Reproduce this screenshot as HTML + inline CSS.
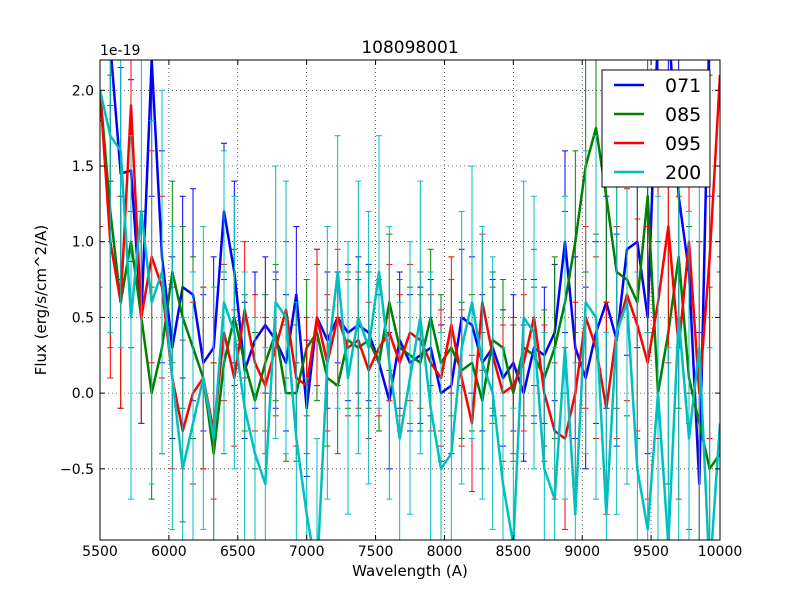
<!DOCTYPE html>
<html><head><meta charset="utf-8"><style>
html,body{margin:0;padding:0;background:#fff;overflow:hidden;width:800px;height:600px}
svg{display:block}
svg text{font-family:"DejaVu Sans","Liberation Sans",sans-serif;fill:#000}
</style></head><body>
<svg id="c" width="800" height="600" xmlns="http://www.w3.org/2000/svg">
<rect width="800" height="600" fill="#fff"/>
<defs><clipPath id="cp"><rect x="100" y="60" width="620" height="480"/></clipPath></defs>
<g id="grid"></g>
<g id="series" clip-path="url(#cp)"></g>
<rect x="100" y="60" width="620" height="480" fill="none" stroke="#000" stroke-width="1"/>
<g id="axes"></g>
<text x="410" y="53" font-size="17" text-anchor="middle">108098001</text>
<text x="100" y="55" font-size="14">1e-19</text>
<text x="410" y="576" font-size="15" text-anchor="middle">Wavelength (A)</text>
<text x="46" y="300" font-size="15" text-anchor="middle" transform="rotate(-90 46 300)">Flux (erg/s/cm^2/A)</text>
<g id="legend">
<rect x="602" y="70" width="108" height="117" fill="#fff" stroke="#000"/>
</g>
</svg>
<script>
const start = 5500, step = 75;
const xTicks = [5500,6000,6500,7000,7500,8000,8500,9000,9500,10000];
const yTicks = [-0.5,0.0,0.5,1.0,1.5,2.0];
const yTickLabels = ["\u22120.5","0.0","0.5","1.0","1.5","2.0"];
const names = ["071","085","095","200"];
const colors = ["#0000ff","#008000","#ff0000","#00bfbf"];
const s071 = [2.5,2.3,1.45,1.47,0.5,2.2,0.9,0.3,0.7,0.65,0.2,0.3,1.2,0.8,0.15,0.35,0.45,0.35,0.2,0.65,-0.1,0.5,0.35,0.5,0.4,0.45,0.4,0.2,-0.05,0.35,0.2,0.25,0.3,0.0,0.05,0.5,0.45,0.2,0.3,0.1,0.2,0.0,0.3,0.25,0.4,1.0,0.3,0.1,0.4,0.6,0.35,0.95,1.0,0.5,2.4,2.5,1.3,0.8,-0.6,2.5,2.5];
const s085 = [2.0,1.2,0.6,1.0,0.5,0.0,0.3,0.8,0.5,0.3,0.1,-0.4,0.2,0.5,0.2,-0.05,0.2,0.4,0.0,0.0,0.3,0.4,0.1,0.05,0.35,0.3,0.35,0.2,0.6,0.3,0.25,0.2,0.5,0.2,0.3,0.15,0.2,-0.05,0.35,0.3,0.0,0.3,0.25,0.1,0.3,0.6,1.0,1.5,1.75,1.3,0.8,0.75,0.6,1.3,0.0,0.4,0.9,0.1,-0.2,-0.5,-0.4];
const s095 = [2.0,1.0,0.6,1.9,0.5,0.9,0.7,0.1,-0.25,0.0,0.1,-0.25,0.4,0.1,0.55,0.2,0.05,0.3,0.55,0.1,0.05,0.5,0.2,0.5,0.3,0.35,0.15,0.3,0.4,0.2,0.4,0.35,0.2,0.1,0.45,0.1,-0.2,0.6,0.25,0.0,0.05,0.2,0.5,0.0,-0.25,-0.3,0.0,0.5,0.3,-0.1,0.4,0.65,0.45,0.2,0.6,1.1,0.3,1.0,0.0,0.9,2.1];
const s200 = [2.0,1.7,1.6,0.5,1.2,0.6,0.8,0.1,-0.5,-0.2,0.1,-0.3,0.6,0.4,-0.1,-0.4,-0.6,0.6,0.5,-0.3,-0.8,-1.2,0.2,0.8,0.1,0.5,0.3,0.8,0.2,-0.3,0.1,0.5,-0.1,-0.5,-0.4,0.3,0.6,0.2,0.0,-0.6,-1.0,0.5,0.4,-0.5,-0.7,0.3,-0.8,0.6,0.5,-0.8,0.4,0.6,-0.5,-0.9,0.0,-1.0,0.5,-0.3,0.3,-1.2,-0.2];
const e071 = [0.7,0.9,0.7,0.6,0.7,0.9,0.7,0.6,0.6,0.7,0.45,0.6,0.45,0.6,0.45,0.45,0.45,0.45,0.45,0.45,0.45,0.45,0.45,0.3,0.45,0.45,0.45,0.45,0.45,0.45,0.45,0.45,0.45,0.45,0.45,0.45,0.45,0.45,0.45,0.45,0.45,0.45,0.45,0.45,0.45,0.6,0.6,0.6,0.6,0.7,0.7,0.7,0.7,0.9,0.9,0.9,1.0,1.0,1.0,1.2,1.2];
const e085 = [0.9,0.9,0.7,0.7,0.7,0.7,0.7,0.6,0.6,0.6,0.6,0.6,0.6,0.45,0.45,0.45,0.45,0.45,0.45,0.45,0.45,0.45,0.45,0.45,0.45,0.45,0.45,0.45,0.45,0.45,0.45,0.45,0.45,0.45,0.45,0.45,0.45,0.45,0.45,0.45,0.45,0.45,0.45,0.45,0.6,0.6,0.6,0.7,0.7,0.7,0.9,0.9,0.9,0.9,1.0,1.0,1.0,1.0,1.2,1.2,1.2];
const e095 = [0.9,0.9,0.7,0.7,0.7,0.7,0.6,0.6,0.6,0.6,0.6,0.45,0.45,0.45,0.45,0.45,0.45,0.45,0.45,0.45,0.45,0.45,0.45,0.45,0.45,0.45,0.45,0.45,0.45,0.45,0.45,0.45,0.45,0.45,0.45,0.45,0.45,0.45,0.45,0.45,0.45,0.45,0.45,0.45,0.45,0.6,0.6,0.6,0.6,0.7,0.7,0.7,0.7,0.9,0.9,0.9,1.0,1.0,1.0,1.2,1.2];
const e200 = [1.3,1.3,1.3,1.2,1.2,1.2,1.2,1.0,1.0,1.0,1.0,1.0,1.0,0.9,0.9,0.9,0.9,0.9,0.9,0.9,0.9,0.9,0.9,0.9,0.9,0.9,0.9,0.9,0.9,0.9,0.9,0.9,0.9,0.9,0.9,0.9,0.9,0.9,0.9,0.9,0.9,0.9,0.9,0.9,1.0,1.0,1.0,1.0,1.2,1.2,1.2,1.2,1.3,1.3,1.3,1.3,1.5,1.5,1.5,1.5,1.5];
const seriesVals = [s071,s085,s095,s200];
const seriesErr = [e071,e085,e095,e200];

const NS="http://www.w3.org/2000/svg";
const xMin=5500,xMax=10000,yMin=-0.97,yMax=2.2;
const X=v=>100+(v-xMin)/(xMax-xMin)*620;
const Y=v=>540-(v-yMin)/(yMax-yMin)*480;
const clampY=y=>Math.max(60,Math.min(540,y));
function mk(tag,attrs,parent){const e=document.createElementNS(NS,tag);for(const k in attrs)e.setAttribute(k,attrs[k]);parent.appendChild(e);return e;}
const grid=document.getElementById('grid'),axes=document.getElementById('axes'),ser=document.getElementById('series'),leg=document.getElementById('legend');
xTicks.forEach(t=>{
  const x=X(t);
  const g=mk('line',{x1:x,x2:x,y1:60,y2:540,stroke:'#000','stroke-width':0.6,'stroke-dasharray':'1,3'},grid);
  
  
  const a=mk('line',{x1:x,x2:x,y1:540,y2:535,stroke:'#000'},axes);
  
  
  const b=mk('line',{x1:x,x2:x,y1:60,y2:65,stroke:'#000'},axes);
  
  
  const tx=mk('text',{x:x,y:556,'font-size':14,'text-anchor':'middle'},axes);
  tx.textContent=t;
  
  
});
yTicks.forEach((t,i)=>{
  const y=Y(t);
  const g=mk('line',{x1:100,x2:720,y1:y,y2:y,stroke:'#000','stroke-width':0.6,'stroke-dasharray':'1,3'},grid);
  
  
  const a=mk('line',{x1:100,x2:105,y1:y,y2:y,stroke:'#000'},axes);
  
  
  const b=mk('line',{x1:715,x2:720,y1:y,y2:y,stroke:'#000'},axes);
  
  
  const tx=mk('text',{x:94,y:y+5,'font-size':14,'text-anchor':'end'},axes);
  tx.textContent=yTickLabels[i];
  
  
});
seriesVals.forEach((vals,si)=>{
  const col=colors[si],err=seriesErr[si];
  const eg=mk('g',{stroke:col,'stroke-width':1},ser);
  
  
  let pts=[];
  vals.forEach((v,i)=>{
    const x=X(start+i*step),y=Y(v);pts.push(x.toFixed(1)+','+y.toFixed(1));
    const e=err[i]||0.45,r1=Y(v-e),r2=Y(v+e);
    const y1=clampY(r1),y2=clampY(r2);
    if(y1>y2) mk('line',{x1:x,x2:x,y1:y1,y2:y2},eg);
    if(r1<540&&r1>60) mk('line',{x1:x-3,x2:x+3,y1:r1,y2:r1},eg);
    if(r2<540&&r2>60) mk('line',{x1:x-3,x2:x+3,y1:r2,y2:r2},eg);
  });
  const pl=mk('polyline',{points:pts.join(' '),fill:'none',stroke:col,'stroke-width':2.5,'stroke-linejoin':'round'},ser);
  
  
  const ly=85+si*29;
  const ll=mk('line',{x1:614,x2:644,y1:ly,y2:ly,stroke:col,'stroke-width':2.5},leg);
  
  
  const lt=mk('text',{x:665,y:ly+7,'font-size':19},leg);
  lt.textContent=names[si];
  
  
});
</script>
</body></html>
